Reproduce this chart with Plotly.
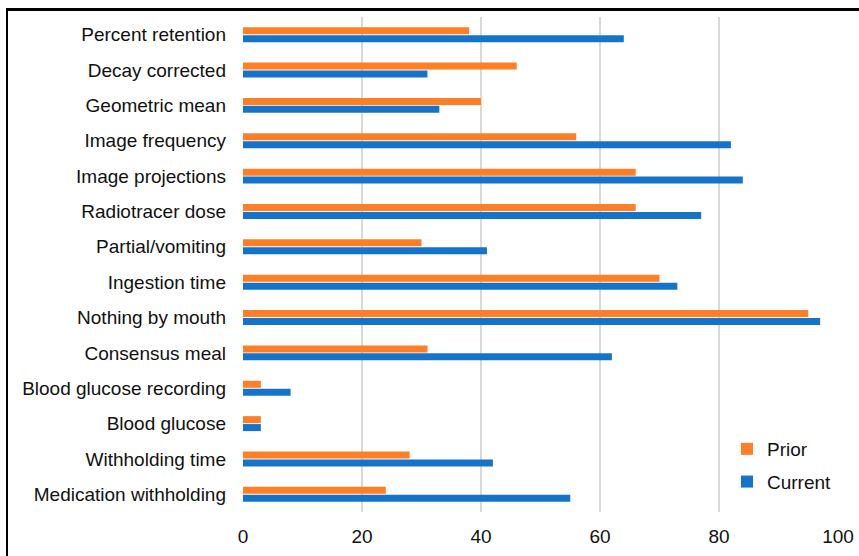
import plotly.graph_objects as go

categories = ["Percent retention", "Decay corrected", "Geometric mean", "Image frequency",
              "Image projections", "Radiotracer dose", "Partial/vomiting", "Ingestion time",
              "Nothing by mouth", "Consensus meal", "Blood glucose recording", "Blood glucose",
              "Withholding time", "Medication withholding"]
prior = [38, 46, 40, 56, 66, 66, 30, 70, 95, 31, 3, 3, 28, 24]
current = [64, 31, 33, 82, 84, 77, 41, 73, 97, 62, 8, 3, 42, 55]
x_ticks = [0, 20, 40, 60, 80, 100]

W, H = 859, 556
ML, MR, MT, MB = 243, 21, 17, 44
pw, ph = W - ML - MR, H - MT - MB

def px_x(p):
    return (p - ML) / pw

def px_y(p):
    return (H - MB - p) / ph

fig = go.Figure()
fig.add_trace(go.Bar(y=categories, x=prior, orientation="h", name="Prior",
                     marker=dict(color="#FF7F27", line=dict(width=0)), legendgroup="a"))
fig.add_trace(go.Bar(y=categories, x=current, orientation="h", name="Current",
                     marker=dict(color="#1574C9", line=dict(width=0)), legendgroup="b"))

font = dict(family="Liberation Sans, Arial, sans-serif", size=19, color="#111111")

fig.update_layout(
    width=W, height=H, autosize=False,
    margin=dict(l=ML, r=MR, t=MT, b=MB, pad=0, autoexpand=False),
    paper_bgcolor="white", plot_bgcolor="white",
    barmode="group", bargap=0.55, bargroupgap=0.12,
    font=font,
    showlegend=True,
    legend=dict(x=px_x(727), y=px_y(430), xanchor="left", yanchor="top",
                traceorder="grouped", tracegroupgap=5, font=font,
                bgcolor="rgba(0,0,0,0)"),
    xaxis=dict(range=[0, 100], tickvals=x_ticks, showgrid=True, gridcolor="#D9D9D9",
               gridwidth=2, zeroline=False, showline=False, ticks="", automargin=False,
               ticklabelstandoff=11, fixedrange=True),
    yaxis=dict(autorange="reversed", showgrid=False, zeroline=False, showline=False,
               ticks="", ticklabelstandoff=16, fixedrange=True, automargin=False),
    shapes=[
        dict(type="line", xref="paper", yref="paper", x0=px_x(6), x1=px_x(880),
             y0=px_y(9.5), y1=px_y(9.5), line=dict(color="black", width=3)),
        dict(type="line", xref="paper", yref="paper", x0=px_x(7), x1=px_x(7),
             y0=px_y(8), y1=px_y(600), line=dict(color="black", width=2)),
    ],
)

fig.write_html("out.html", config={"displayModeBar": False},
               post_script="document.body.style.margin='0px';document.body.style.overflow='hidden';")
